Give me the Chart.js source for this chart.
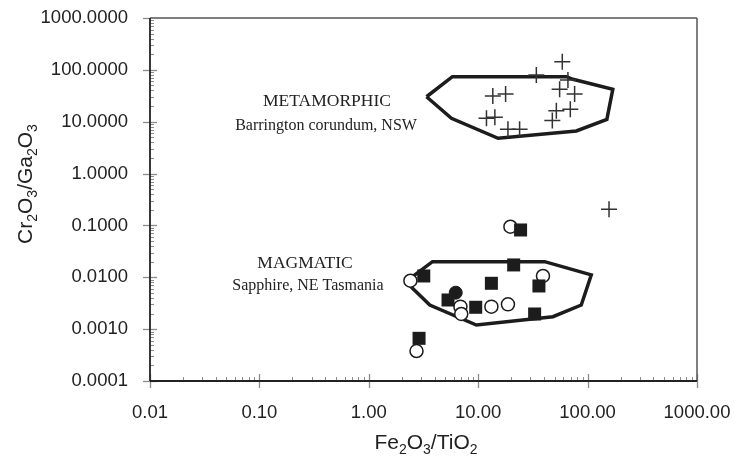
<!DOCTYPE html>
<html><head><meta charset="utf-8">
<script src="https://cdn.jsdelivr.net/npm/chart.js@4.4.0/dist/chart.umd.min.js"></script>
<style>html,body{margin:0;padding:0;background:#fff}#wrap{width:734px;height:462px}</style>
</head><body><div id="wrap"><canvas id="c" width="734" height="462"></canvas></div>
<script>
// ---- data ----
const xTickValues = [0.01, 0.1, 1, 10, 100, 1000];
const xTickLabels = ['0.01', '0.10', '1.00', '10.00', '100.00', '1000.00'];
const yTickValues = [0.0001, 0.001, 0.01, 0.1, 1, 10, 100, 1000];
const yTickLabels = ['0.0001', '0.0010', '0.0100', '0.1000', '1.0000', '10.0000', '100.0000', '1000.0000'];

const metamorphicField = [[3.37,30.3],[5.81,73.8],[63.9,73.8],[73.4,65.7],[170,42.2],[150,11.1],[78.9,6.62],[15.2,4.79],[5.69,11.6],[3.37,30.3]];
const magmaticField = [[2.18,0.00822],[3.82,0.0200],[40.5,0.0200],[108,0.0111],[87.5,0.00292],[48.2,0.00174],[9.63,0.00120],[3.61,0.00292],[2.18,0.00822]];

const crosses = [[58.7,144],[34.0,79.5],[66.1,63.7],[55.5,42.2],[76.1,34.2],[13.6,31.3],[17.8,34.2],[51.8,16.3],[69.5,17.3],[47.6,10.5],[11.9,11.6],[14.2,12.2],[18.7,7.13],[23.9,7.13],[157,0.205]];
const squares = [[24.4,0.0817],[3.18,0.0106],[21.1,0.0173],[13.2,0.00766],[35.9,0.0068],[5.30,0.00365],[9.49,0.00264],[32.8,0.00196],[2.88,0.000665]];
const filledCircles = [[6.23,0.00505]];
const openCircles = [[19.7,0.0944],[2.40,0.00859],[39.1,0.0106],[6.88,0.00271],[13.2,0.00271],[18.7,0.00301],[7.0,0.00196],[2.73,0.000378]];

const fieldLabels = [
  {title:'METAMORPHIC', sub:'Barrington corundum, NSW', x:327, y:106, sx:326, sy:130},
  {title:'MAGMATIC', sub:'Sapphire, NE Tasmania', x:305, y:268, sx:308, sy:290}
];

const pts = a => a.map(p => ({x:p[0], y:p[1]}));
const INK = '#1c1c1c';
const SANS = '"Liberation Sans", Arial, sans-serif';

const framePlugin = {
  id:'frame',
  beforeDatasetsDraw(chart){
    const {ctx, chartArea:a, scales:{x, y}} = chart;
    ctx.save();
    const line=(x1,y1,x2,y2)=>{ctx.beginPath();ctx.moveTo(x1,y1);ctx.lineTo(x2,y2);ctx.stroke();};
    ctx.strokeStyle='#8c8c8c'; ctx.lineWidth=1;
    for (let e=-4; e<3; e++) for (let m=2; m<10; m++){
      const py=Math.round(y.getPixelForValue(m*Math.pow(10,e)))+0.5;
      line(a.left,py,a.left+4,py);
    }
    for (let e=-2; e<3; e++) for (let m=2; m<10; m++){
      const px=Math.round(x.getPixelForValue(m*Math.pow(10,e)))+0.5;
      line(px,a.bottom,px,a.bottom-4);
    }
    ctx.lineWidth=1.3;
    yTickValues.forEach(v=>{const py=Math.round(y.getPixelForValue(v))+0.5; line(a.left-7,py,(v===1000?a.left:a.left+7),py);});
    xTickValues.forEach(v=>{const px=Math.round(x.getPixelForValue(v))+0.5; line(px,a.bottom-7,px,a.bottom+7);});
    ctx.strokeStyle='#555'; ctx.lineWidth=1.5;
    line(a.left,a.top,a.right,a.top);
    line(a.right,a.top,a.right,a.bottom);
    ctx.strokeStyle='#222'; ctx.lineWidth=1.8;
    line(a.left,a.top,a.left,a.bottom);
    line(a.left,a.bottom,a.right,a.bottom);
    // tick labels
    ctx.fillStyle='#222';
    ctx.font='18.5px '+SANS;
    ctx.textAlign='right'; ctx.textBaseline='middle';
    yTickValues.forEach((v,i)=>ctx.fillText(yTickLabels[i], a.left-22, y.getPixelForValue(v)));
    ctx.textAlign='center'; ctx.textBaseline='top';
    xTickValues.forEach((v,i)=>ctx.fillText(xTickLabels[i], x.getPixelForValue(v), a.bottom+23));
    ctx.restore();
  },
  afterDraw(chart){
    const ctx = chart.ctx;
    ctx.save();
    ctx.fillStyle='#222';
    ctx.textAlign='center'; ctx.textBaseline='alphabetic';
    fieldLabels.forEach(l=>{
      ctx.font='17.5px "Liberation Serif", "Times New Roman", serif';
      ctx.fillText(l.title,l.x,l.y);
      ctx.font='16px "Liberation Serif", "Times New Roman", serif';
      ctx.fillText(l.sub,l.sx,l.sy);
    });
    const drawSub=(parts,cx,cy)=>{
      const big='21px '+SANS, small='14px '+SANS;
      let w=0;
      parts.forEach(p=>{ctx.font=p[1]?small:big; w+=ctx.measureText(p[0]).width;});
      let xx=cx-w/2;
      ctx.textAlign='left';
      parts.forEach(p=>{ctx.font=p[1]?small:big; ctx.fillText(p[0],xx,cy+(p[1]?5:0)); xx+=ctx.measureText(p[0]).width;});
    };
    drawSub([['Fe',0],['2',1],['O',0],['3',1],['/TiO',0],['2',1]],426,449);
    ctx.translate(32,184); ctx.rotate(-Math.PI/2);
    drawSub([['Cr',0],['2',1],['O',0],['3',1],['/Ga',0],['2',1],['O',0],['3',1]],0,0);
    ctx.restore();
  }
};

new Chart(document.getElementById('c'), {
  type:'scatter',
  data:{datasets:[
    {data:pts(metamorphicField), showLine:true, borderColor:INK, borderWidth:3.5, pointRadius:0, fill:false, tension:0, order:5},
    {data:pts(magmaticField), showLine:true, borderColor:INK, borderWidth:3.5, pointRadius:0, fill:false, tension:0, order:5},
    {data:pts(openCircles), pointStyle:'circle', pointRadius:6.5, backgroundColor:'#fff', borderColor:INK, borderWidth:1.5, order:3},
    {data:pts(squares), pointStyle:'rect', pointRadius:9.2, backgroundColor:INK, borderColor:INK, borderWidth:0, order:2},
    {data:pts(filledCircles), pointStyle:'circle', pointRadius:6.5, backgroundColor:INK, borderColor:INK, borderWidth:1, order:1},
    {data:pts(crosses), pointStyle:'cross', pointRadius:8, borderColor:'#333', borderWidth:1.5, order:1}
  ]},
  options:{
    responsive:false, animation:false, events:[],
    layout:{padding:{left:0, right:37, top:18, bottom:0}},
    plugins:{legend:{display:false}, tooltip:{enabled:false}},
    scales:{
      x:{type:'logarithmic', min:0.01, max:1000,
        afterBuildTicks:s=>{s.ticks=xTickValues.map(v=>({value:v}));},
        afterFit:s=>{s.height=81;},
        grid:{display:false, drawTicks:false}, border:{display:false},
        ticks:{display:false}},
      y:{type:'logarithmic', min:0.0001, max:1000,
        afterBuildTicks:s=>{s.ticks=yTickValues.map(v=>({value:v}));},
        afterFit:s=>{s.width=150;},
        grid:{display:false, drawTicks:false}, border:{display:false},
        ticks:{display:false}}
    }
  },
  plugins:[framePlugin]
});
</script></body></html>
